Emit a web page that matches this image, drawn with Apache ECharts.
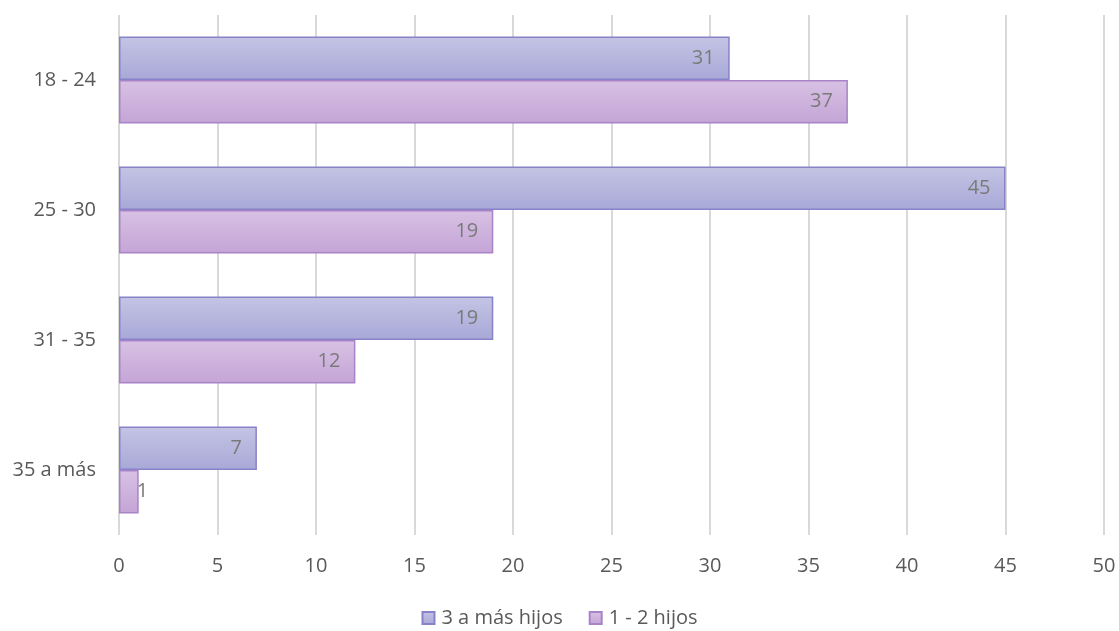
<!DOCTYPE html>
<html><head><meta charset="utf-8">
<script src="https://cdn.jsdelivr.net/npm/echarts@6/dist/echarts.min.js"></script>
<style>html,body{margin:0;padding:0;background:#fff}#c{width:1119px;height:631px}</style>
</head><body><div id="c"></div>
<script>
const categories = ['18 - 24', '25 - 30', '31 - 35', '35 a más'];
const seriesNames = ['3 a más hijos', '1 - 2 hijos'];
const tresAMas = [31, 45, 19, 7];
const unoDos = [37, 19, 12, 1];

const font = '"Open Sans", sans-serif';
function grad(a, b) {
  return new echarts.graphic.LinearGradient(0, 0, 0, 1, [{offset: 0, color: a}, {offset: 1, color: b}]);
}
// tiny bars: label sits just past the bar end, as in the reference
function withLabels(arr) {
  return arr.map(v => v < 3 ? {value: v, label: {position: 'right', distance: -2}} : v);
}
const chart = echarts.init(document.getElementById('c'));
chart.setOption({
  animation: false,
  textStyle: {fontFamily: font},
  grid: {left: 119, right: 15, top: 15, bottom: 96, containLabel: false},
  legend: {
    bottom: -2, left: 'center', itemWidth: 12, itemHeight: 12, itemGap: 26, icon: 'rect',
    textStyle: {color: '#595959', fontSize: 20, fontFamily: font, padding: [0, 0, 0, 2]},
    data: seriesNames
  },
  xAxis: {
    type: 'value', min: 0, max: 50, interval: 5,
    axisLine: {show: false}, axisTick: {show: false},
    splitLine: {lineStyle: {color: '#d9d9d9', width: 2}},
    axisLabel: {color: '#595959', fontSize: 20, margin: 21, fontFamily: font}
  },
  yAxis: {
    type: 'category', data: categories, inverse: true,
    axisLine: {show: false}, axisTick: {show: false},
    axisLabel: {color: '#595959', fontSize: 20, margin: 23, fontFamily: font}
  },
  series: [
    {
      name: seriesNames[0], type: 'bar', data: withLabels(tresAMas),
      barGap: '0%', barCategoryGap: '33%',
      itemStyle: {color: grad('#c4c4e4', '#a8a8d8'), borderColor: '#8882c8', borderWidth: 1.5},
      label: {show: true, position: 'insideRight', distance: 15, color: '#7a7a7a', fontSize: 20, fontFamily: font}
    },
    {
      name: seriesNames[1], type: 'bar', data: withLabels(unoDos),
      itemStyle: {color: grad('#d8c2e4', '#c4a4d6'), borderColor: '#a983c8', borderWidth: 1.5},
      label: {show: true, position: 'insideRight', distance: 15, color: '#7a7a7a', fontSize: 20, fontFamily: font}
    }
  ]
});
</script></body></html>
